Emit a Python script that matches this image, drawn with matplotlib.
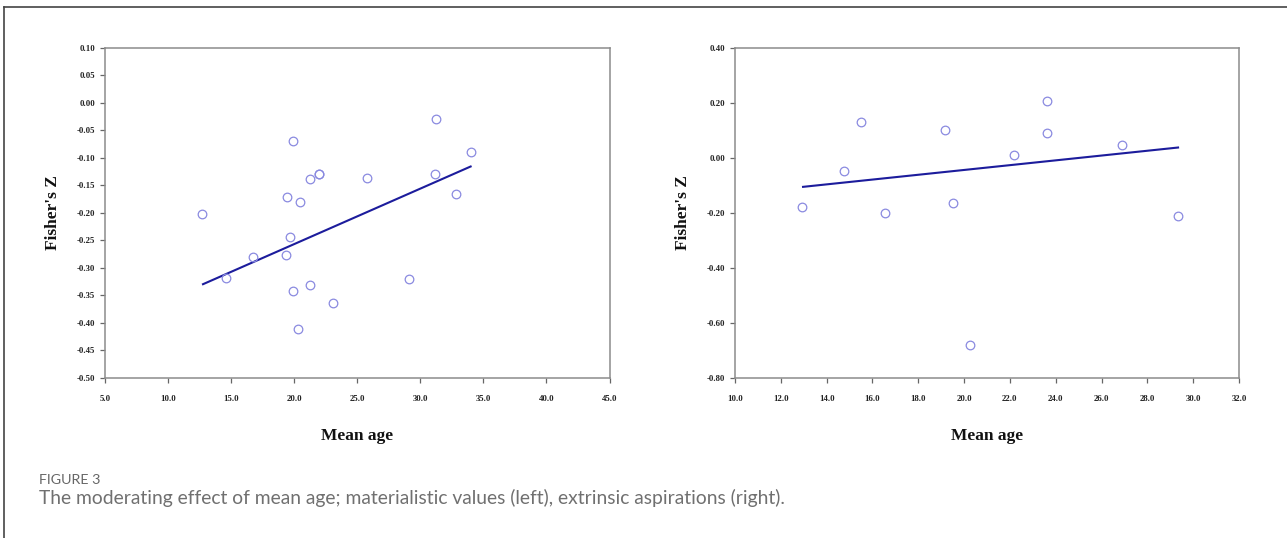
import matplotlib
matplotlib.use("Agg")
import matplotlib.pyplot as plt
from matplotlib.lines import Line2D
from matplotlib.ticker import FixedLocator, FuncFormatter

# ---- data: materialistic values (left) ----
left_age = [12.71, 14.59, 16.76, 19.32, 19.45, 19.64, 19.90, 19.90, 20.29, 20.45,
            21.26, 21.26, 21.97, 21.97, 23.04, 25.79, 29.10, 31.14, 31.27, 32.85, 33.99]
left_z = [-0.203, -0.318, -0.281, -0.277, -0.171, -0.244, -0.070, -0.342, -0.411, -0.181,
          -0.138, -0.331, -0.130, -0.130, -0.365, -0.136, -0.320, -0.130, -0.030, -0.166, -0.090]
left_fit_age = [12.77, 33.99]
left_fit_z = [-0.330, -0.116]
left_xticks = [5, 10, 15, 20, 25, 30, 35, 40, 45]
left_yticks = [-0.50, -0.45, -0.40, -0.35, -0.30, -0.25, -0.20, -0.15, -0.10, -0.05, 0.00, 0.05, 0.10]

# ---- data: extrinsic aspirations (right) ----
right_age = [12.93, 14.75, 15.49, 16.55, 19.18, 19.51, 20.26, 22.19, 23.61, 23.61, 26.89, 29.34]
right_z = [-0.181, -0.049, 0.131, -0.201, 0.101, -0.165, -0.680, 0.011, 0.205, 0.091, 0.048, -0.213]
right_fit_age = [12.97, 29.34]
right_fit_z = [-0.106, 0.037]
right_xticks = [10, 12, 14, 16, 18, 20, 22, 24, 26, 28, 30, 32]
right_yticks = [-0.80, -0.60, -0.40, -0.20, 0.00, 0.20, 0.40]

caption_title = "FIGURE 3"
caption_text = "The moderating effect of mean age; materialistic values (left), extrinsic aspirations (right)."

W, H = 1287, 538
fig = plt.figure(figsize=(W / 100, H / 100), dpi=100)
fig.patch.set_facecolor("white")

serif = ["Liberation Serif", "DejaVu Serif"]
marker_col = "#8a8ae0"
line_col = "#1c1c9c"
frame_col = "#8c8c8c"


def make_panel(rect, xs, ys, fx, fy, xticks, yticks, xfmt, yfmt):
    ax = fig.add_axes(rect)
    ax.plot(fx, fy, color=line_col, lw=1.5, zorder=2)
    ax.plot(xs, ys, linestyle="none", marker="o", markersize=6.2,
            markerfacecolor="none", markeredgecolor=marker_col, markeredgewidth=0.9, zorder=3)
    ax.set_xlim(xticks[0], xticks[-1])
    ax.set_ylim(yticks[0], yticks[-1])
    ax.xaxis.set_major_locator(FixedLocator(xticks))
    ax.yaxis.set_major_locator(FixedLocator(yticks))
    ax.xaxis.set_major_formatter(FuncFormatter(lambda v, p: (xfmt % v).replace("\u2212", "-")))
    ax.yaxis.set_major_formatter(FuncFormatter(lambda v, p: (yfmt % v).replace("\u2212", "-")))
    for s in ax.spines.values():
        s.set_color(frame_col)
        s.set_linewidth(1.1)
    ax.tick_params(axis="both", direction="out", length=3.6, width=0.9, color="#666666")
    ax.tick_params(axis="x", pad=9.0)
    ax.tick_params(axis="y", pad=3.3)
    for lab in ax.get_xticklabels() + ax.get_yticklabels():
        lab.set_fontfamily(serif)
        lab.set_fontweight("bold")
        lab.set_fontsize(6.3)
        lab.set_color("#222222")
    ax.set_xlabel("Mean age", fontfamily=serif, fontweight="bold", fontsize=12.5, color="#111111")
    ax.set_ylabel("Fisher's Z", fontfamily=serif, fontweight="bold", fontsize=12.5, color="#111111")
    ax.xaxis.set_label_coords(0.5, -0.152)
    ax.yaxis.set_label_coords(-0.087, 0.5)
    return ax


axh = 330 / H
axb = (H - 377.7) / H
make_panel([105 / W, axb, 504.5 / W, axh], left_age, left_z, left_fit_age, left_fit_z,
           left_xticks, left_yticks, "%.1f", "%.2f")
make_panel([735 / W, axb, 504 / W, axh], right_age, right_z, right_fit_age, right_fit_z,
           right_xticks, right_yticks, "%.1f", "%.2f")

# figure frame (top and left edges)
fig.add_artist(Line2D([4.3 / W, 1.0], [1 - 7 / H, 1 - 7 / H], transform=fig.transFigure,
                      color="#444444", lw=1.2))
fig.add_artist(Line2D([4.3 / W, 4.3 / W], [0.0, 1 - 7 / H], transform=fig.transFigure,
                      color="#444444", lw=1.2))

# caption
fig.text(39 / W, 1 - 484.3 / H, caption_title, fontfamily=["Lato", "DejaVu Sans"],
         fontsize=10.3, color="#666666", va="baseline", ha="left")
fig.text(39 / W, 1 - 504 / H, caption_text, fontfamily=["Lato", "DejaVu Sans"],
         fontsize=13.85, color="#707070", va="baseline", ha="left")

fig.savefig("out.png", dpi=100, facecolor="white")
